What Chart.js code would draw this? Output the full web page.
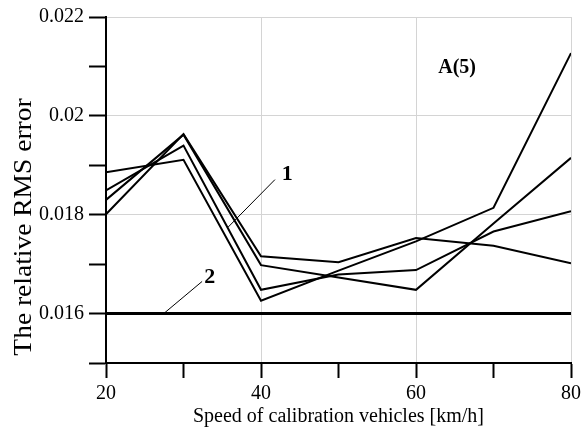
<!DOCTYPE html>
<html>
<head>
<meta charset="utf-8">
<script src="https://cdn.jsdelivr.net/npm/chart.js@4"></script>
<style>
  html, body { margin: 0; padding: 0; background: #fff; }
  #wrap { width: 582px; height: 431px; }
</style>
</head>
<body>
<div id="wrap"><canvas id="chart" width="582" height="431"></canvas></div>
<script>
// Relative RMS error vs speed of calibration vehicles, A(5)
const speeds = [20, 30, 40, 50, 60, 70, 80];
const series1a = [0.01886, 0.01911, 0.01626, 0.01687, 0.01746, 0.01814, 0.02127];
const series1b = [0.01849, 0.01940, 0.01648, 0.01679, 0.01688, 0.01766, 0.01807];
const series1c = [0.01830, 0.01962, 0.01698, 0.01673, 0.01648, 0.01782, 0.01915];
const series1d = [0.01801, 0.01963, 0.01716, 0.01704, 0.01753, 0.01737, 0.01702];
const series2 = [0.016, 0.016, 0.016, 0.016, 0.016, 0.016, 0.016];
const xTickLabels = [20, 40, 60, 80];
const yTickLabels = [0.016, 0.018, 0.02, 0.022];
const yTitle = 'The relative RMS error';

const SERIF = '"Liberation Serif", "DejaVu Serif", serif';

function pts(vals) {
    return vals.map((v, i) => ({ x: speeds[i], y: v }));
}

function lineSet(vals, width) {
    return {
        data: pts(vals),
        borderColor: '#000',
        borderWidth: width,
        pointRadius: 0,
        tension: 0,
        fill: false
    };
}

// labels & leader lines, placed in data units
const notes = [
    { text: '1', x: 43.4, y: 0.01881, from: [41.8, 0.01871], to: [35.7, 0.01774], size: 22 },
    { text: '2', x: 33.4, y: 0.01673, from: [32.4, 0.01665], to: [27.6, 0.01602], size: 22 },
    { text: 'A(5)', x: 65.3, y: 0.02097, size: 20 }
];

const notePlugin = {
    id: 'notes',
    afterDatasetsDraw(chart) {
        const { ctx, scales: { x, y } } = chart;
        ctx.save();
        notes.forEach(n => {
            if (n.from) {
                ctx.beginPath();
                ctx.strokeStyle = '#000';
                ctx.lineWidth = 1;
                ctx.moveTo(x.getPixelForValue(n.from[0]), y.getPixelForValue(n.from[1]));
                ctx.lineTo(x.getPixelForValue(n.to[0]), y.getPixelForValue(n.to[1]));
                ctx.stroke();
            }
            ctx.fillStyle = '#000';
            ctx.font = 'bold ' + n.size + 'px ' + SERIF;
            ctx.textAlign = 'center';
            ctx.textBaseline = 'middle';
            ctx.fillText(n.text, x.getPixelForValue(n.x), y.getPixelForValue(n.y));
        });
        // y axis title: a bit below the plot centre, slightly stretched like the original
        ctx.translate(24, 227);
        ctx.rotate(-Math.PI / 2);
        ctx.scale(1.1, 1);
        ctx.font = '25px ' + SERIF;
        ctx.fillText(yTitle, 0, 0);
        ctx.restore();
    }
};

new Chart(document.getElementById('chart').getContext('2d'), {
    type: 'line',
    data: {
        datasets: [
            lineSet(series1a, 2),
            lineSet(series1b, 2),
            lineSet(series1c, 2),
            lineSet(series1d, 2),
            lineSet(series2, 3)
        ]
    },
    options: {
        responsive: false,
        animation: false,
        layout: { padding: { top: 8, right: 0, left: 0, bottom: 0 } },
        plugins: { legend: { display: false }, tooltip: { enabled: false } },
        scales: {
            x: {
                type: 'linear',
                min: 20, max: 80,
                ticks: {
                    stepSize: 10,
                    color: '#000',
                    padding: 4,
                    maxRotation: 0,
                    font: { family: SERIF, size: 20 },
                    callback: v => xTickLabels.includes(v) ? v : ''
                },
                grid: {
                    color: c => (c.tick && xTickLabels.includes(c.tick.value) && c.tick.value !== 20) ? '#d4d4d4' : 'rgba(0,0,0,0)',
                    tickColor: '#000',
                    tickLength: 15,
                    tickWidth: 2
                },
                border: { color: '#000', width: 2 },
                title: {
                    display: true,
                    text: 'Speed of calibration vehicles [km/h]',
                    color: '#000',
                    font: { family: SERIF, size: 20 },
                    padding: { top: 0, bottom: 2 }
                },
                afterFit: s => { s.height = 68; s.paddingRight = 11; }
            },
            y: {
                min: 0.015, max: 0.022,
                ticks: {
                    stepSize: 0.001,
                    color: '#000',
                    padding: 5,
                    font: { family: SERIF, size: 20 },
                    callback: v => yTickLabels.some(t => Math.abs(t - v) < 1e-9) ? String(+v.toFixed(3)) : ''
                },
                grid: {
                    color: c => (c.tick && yTickLabels.some(t => Math.abs(t - c.tick.value) < 1e-9)) ? '#d4d4d4' : 'rgba(0,0,0,0)',
                    tickColor: '#000',
                    tickLength: 17,
                    tickWidth: 2
                },
                border: { color: '#000', width: 2 },
                title: { display: false },
                afterFit: s => { s.width = 106; }
            }
        }
    },
    plugins: [notePlugin]
});
</script>
</body>
</html>
